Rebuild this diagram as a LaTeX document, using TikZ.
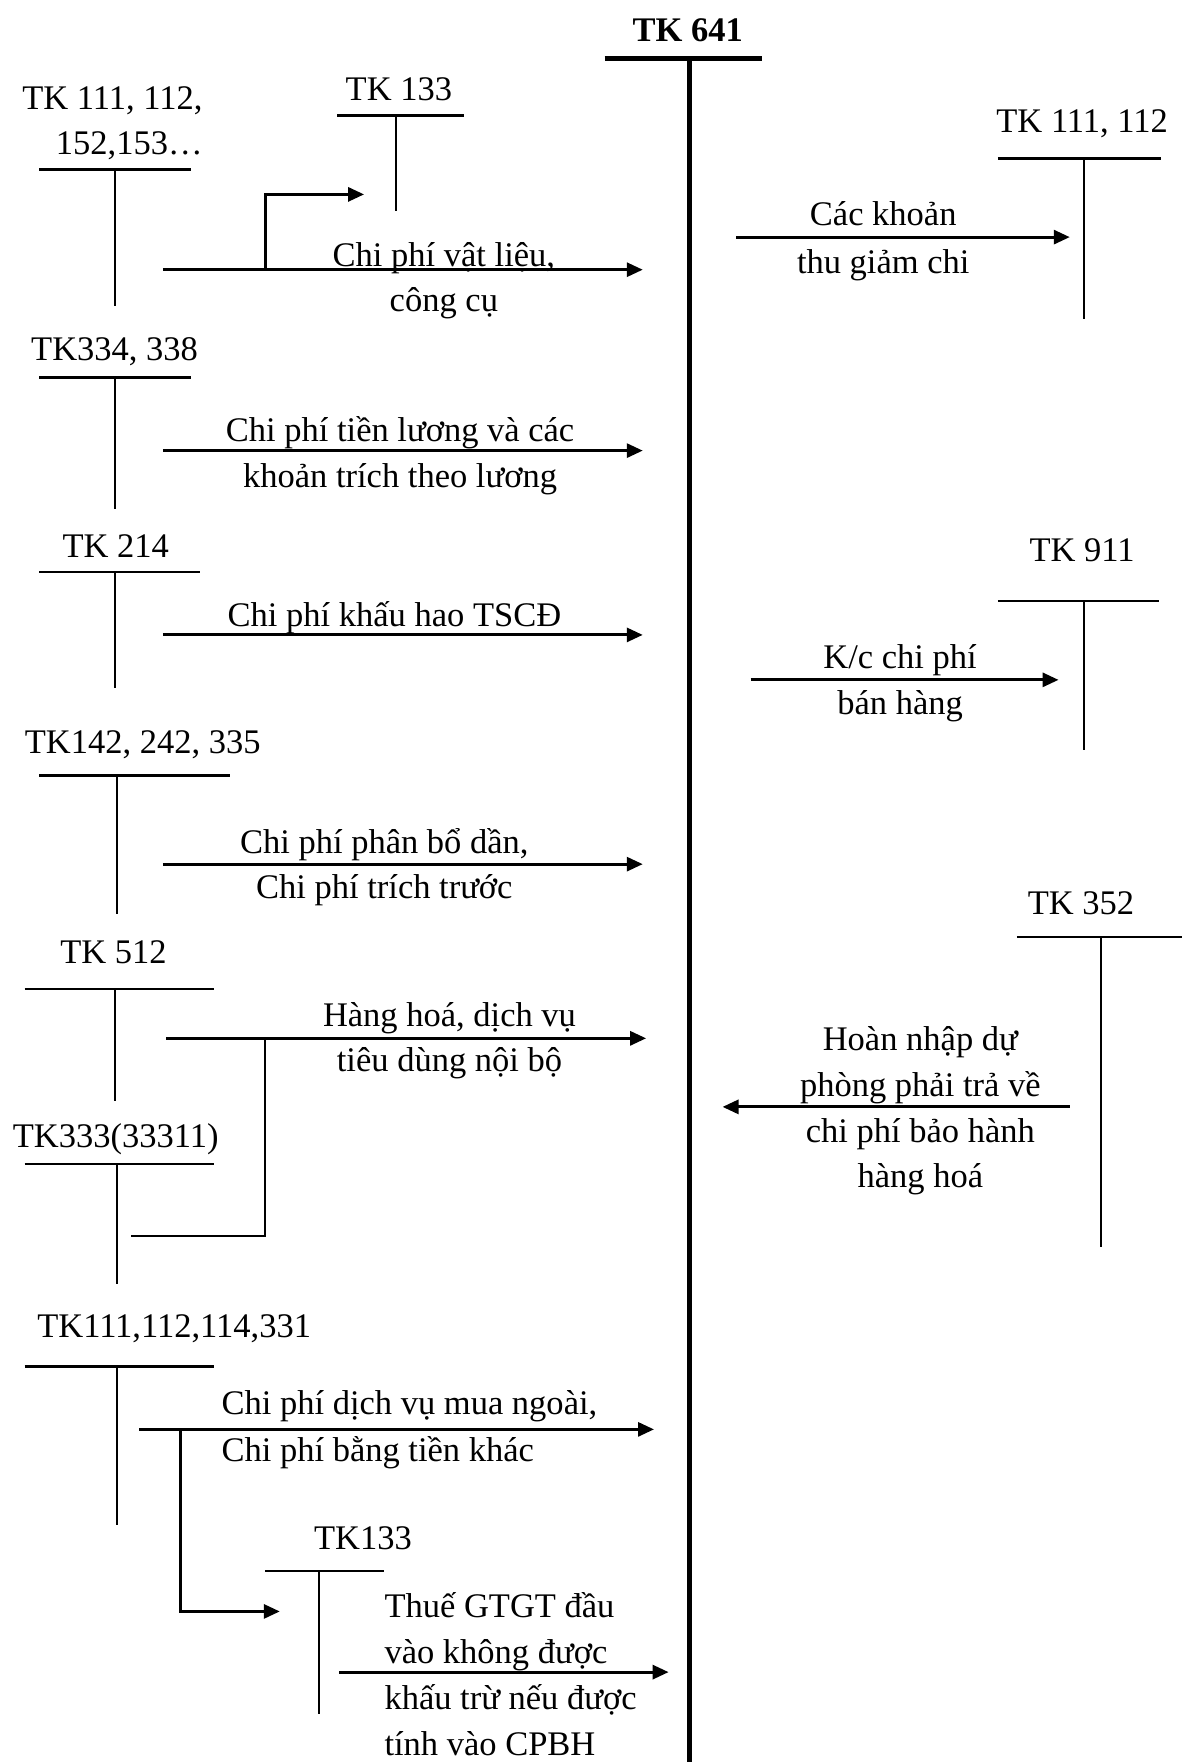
\documentclass[tikz,border=0pt]{standalone}
\usepackage{fontspec}
\setmainfont{Liberation Serif}
\usetikzlibrary{arrows.meta}
\begin{document}
\begin{tikzpicture}[x=1.1236pt,y=-1.1236pt,
  lbl/.style={font=\fontsize{34.5}{40}\selectfont, anchor=base, inner sep=0pt},
  lbll/.style={lbl, anchor=base west},
  tbar/.style={line width=2.5pt},
  tstem/.style={line width=2pt},
  flow/.style={line width=3pt, -{Triangle[length=16pt,width=14pt]}},
  link/.style={line width=3pt}]
\fill[white] (0,0) rectangle (1052,1568);
\useasboundingbox (0,0) rectangle (1052,1568);

% main account TK 641
\node[lbl, font=\fontsize{34.5}{40}\selectfont\bfseries] (t641) at (612,36.5) {TK 641};
\coordinate (m0) at (538,52); \coordinate (m1) at (678,52);
\coordinate (mt) at (614,52); \coordinate (mb) at (614,1568);
\draw[line width=5pt] (m0) -- (m1);
\draw[line width=5pt] (mt) -- (mb);

% TK 111,112,152,153
\node[lbl] (a1) at (100,97.5) {TK 111, 112,};
\node[lbl] (a2) at (115,137.5) {152,153…};
\coordinate (a1l) at (35,151); \coordinate (a1r) at (170,151);
\coordinate (a1t) at (102,151); \coordinate (a1b) at (102,272);
\draw[tbar] (a1l) -- (a1r); \draw[tstem] (a1t) -- (a1b);

% TK 133 top
\node[lbl] (b1) at (355,89.5) {TK 133};
\coordinate (b1l) at (300,103); \coordinate (b1r) at (413,103);
\coordinate (b1t) at (352,103); \coordinate (b1b) at (352,188);
\draw[tbar] (b1l) -- (b1r); \draw[tstem] (b1t) -- (b1b);

\coordinate (f1s) at (145,240); \coordinate (f1e) at (572,240);
\coordinate (f1k) at (236,240); \coordinate (f1u) at (236,173); \coordinate (f1v) at (324,173);
\draw[flow] (f1s) -- (f1e);
\draw[flow] (f1k) -- (f1u) -- (f1v);
\node[lbl] (f1t1) at (395,237.5) {Chi phí vật liệu,};
\node[lbl] (f1t2) at (395,277.5) {công cụ};

% TK 111,112 right
\node[lbl] (r1) at (963,117.5) {TK 111, 112};
\coordinate (r1l) at (888,141); \coordinate (r1r) at (1033,141);
\coordinate (r1t) at (965,141); \coordinate (r1b) at (965,284);
\draw[tbar] (r1l) -- (r1r); \draw[tstem] (r1t) -- (r1b);
\coordinate (g1s) at (655,211); \coordinate (g1e) at (952,211);
\draw[flow] (g1s) -- (g1e);
\node[lbl] (g1t1) at (786,200.5) {Các khoản};
\node[lbl] (g1t2) at (786,243.5) {thu giảm chi};

% TK334, 338
\node[lbl] (c1) at (102,320.5) {TK334, 338};
\coordinate (c1l) at (35,336); \coordinate (c1r) at (170,336);
\coordinate (c1t) at (102,336); \coordinate (c1b) at (102,453);
\draw[tbar] (c1l) -- (c1r); \draw[tstem] (c1t) -- (c1b);
\coordinate (f2s) at (145,401); \coordinate (f2e) at (572,401);
\draw[flow] (f2s) -- (f2e);
\node[lbl] (f2t1) at (356,392.5) {Chi phí tiền lương và các};
\node[lbl] (f2t2) at (356,433.5) {khoản trích theo lương};

% TK 214
\node[lbl] (d1) at (103,496.5) {TK 214};
\coordinate (d1l) at (35,509); \coordinate (d1r) at (178,509);
\coordinate (d1t) at (102,509); \coordinate (d1b) at (102,612);
\draw[tbar] (d1l) -- (d1r); \draw[tstem] (d1t) -- (d1b);
\coordinate (f3s) at (145,565); \coordinate (f3e) at (572,565);
\draw[flow] (f3s) -- (f3e);
\node[lbl] (f3t1) at (351,557.5) {Chi phí khấu hao TSCĐ};

% TK 911
\node[lbl] (r2) at (963,499.5) {TK 911};
\coordinate (r2l) at (888,535); \coordinate (r2r) at (1031,535);
\coordinate (r2t) at (965,535); \coordinate (r2b) at (965,667);
\draw[tbar] (r2l) -- (r2r); \draw[tstem] (r2t) -- (r2b);
\coordinate (g2s) at (668,605); \coordinate (g2e) at (942,605);
\draw[flow] (g2s) -- (g2e);
\node[lbl] (g2t1) at (801,594.5) {K/c chi phí};
\node[lbl] (g2t2) at (801,635.5) {bán hàng};

% TK142, 242, 335
\node[lbl] (e1) at (127,670.5) {TK142, 242, 335};
\coordinate (e1l) at (35,690); \coordinate (e1r) at (205,690);
\coordinate (e1t) at (104,690); \coordinate (e1b) at (104,813);
\draw[tbar] (e1l) -- (e1r); \draw[tstem] (e1t) -- (e1b);
\coordinate (f4s) at (145,769); \coordinate (f4e) at (572,769);
\draw[flow] (f4s) -- (f4e);
\node[lbl] (f4t1) at (342,759.5) {Chi phí phân bổ dần,};
\node[lbl] (f4t2) at (342,799.5) {Chi phí trích trước};

% TK 352
\node[lbl] (r3) at (962,813.5) {TK 352};
\coordinate (r3l) at (905,834); \coordinate (r3r) at (1052,834);
\coordinate (r3t) at (980,834); \coordinate (r3b) at (980,1110);
\draw[tbar] (r3l) -- (r3r); \draw[tstem] (r3t) -- (r3b);
\coordinate (g3s) at (952,985); \coordinate (g3e) at (643,985);
\draw[flow] (g3s) -- (g3e);
\node[lbl] (g3t1) at (819,934.5) {Hoàn nhập dự};
\node[lbl] (g3t2) at (819,975.5) {phòng phải trả về};
\node[lbl] (g3t3) at (819,1016.5) {chi phí bảo hành};
\node[lbl] (g3t4) at (819,1057) {hàng hoá};

% TK 512
\node[lbl] (h1) at (101,857.5) {TK 512};
\coordinate (h1l) at (22,880); \coordinate (h1r) at (190,880);
\coordinate (h1t) at (102,880); \coordinate (h1b) at (102,980);
\draw[tbar] (h1l) -- (h1r); \draw[tstem] (h1t) -- (h1b);
\coordinate (f5s) at (148,924); \coordinate (f5e) at (575,924);
\draw[flow] (f5s) -- (f5e);
\node[lbl] (f5t1) at (400,913.5) {Hàng hoá, dịch vụ};
\node[lbl] (f5t2) at (400,953.5) {tiêu dùng nội bộ};

% TK333(33311)
\node[lbl] (k1) at (103,1021.5) {TK333(33311)};
\coordinate (k1l) at (22,1036); \coordinate (k1r) at (190,1036);
\coordinate (k1t) at (104,1036); \coordinate (k1b) at (104,1143);
\draw[tbar] (k1l) -- (k1r); \draw[tstem] (k1t) -- (k1b);
\coordinate (k2s) at (117,1100); \coordinate (k2c) at (236,1100); \coordinate (k2e) at (236,924);
\draw[line width=2.5pt] (k2s) -- (k2c) -- (k2e);

% TK111,112,114,331
\node[lbl] (p1) at (155,1190.5) {TK111,112,114,331};
\coordinate (p1l) at (22,1216); \coordinate (p1r) at (190,1216);
\coordinate (p1t) at (104,1216); \coordinate (p1b) at (104,1357);
\draw[tbar] (p1l) -- (p1r); \draw[tstem] (p1t) -- (p1b);
\coordinate (f6s) at (124,1272); \coordinate (f6e) at (582,1272);
\coordinate (f6k) at (161,1272); \coordinate (f6d) at (161,1434); \coordinate (f6v) at (249,1434);
\draw[flow] (f6s) -- (f6e);
\draw[flow] (f6k) -- (f6d) -- (f6v);
\node[lbll] (f6t1) at (197,1258.5) {Chi phí dịch vụ mua ngoài,};
\node[lbll] (f6t2) at (197,1300.5) {Chi phí bằng tiền khác};

% TK133 bottom
\node[lbl] (q1) at (323,1378.5) {TK133};
\coordinate (q1l) at (236,1398); \coordinate (q1r) at (342,1398);
\coordinate (q1t) at (284,1398); \coordinate (q1b) at (284,1525);
\draw[tbar] (q1l) -- (q1r); \draw[tstem] (q1t) -- (q1b);
\coordinate (f7s) at (302,1488); \coordinate (f7e) at (595,1488);
\draw[flow] (f7s) -- (f7e);
\node[lbll] (f7t1) at (342,1439.5) {Thuế GTGT đầu};
\node[lbll] (f7t2) at (342,1480.5) {vào không được};
\node[lbll] (f7t3) at (342,1521.5) {khấu trừ nếu được};
\node[lbll] (f7t4) at (342,1562) {tính vào CPBH};
\end{tikzpicture}
\end{document}
